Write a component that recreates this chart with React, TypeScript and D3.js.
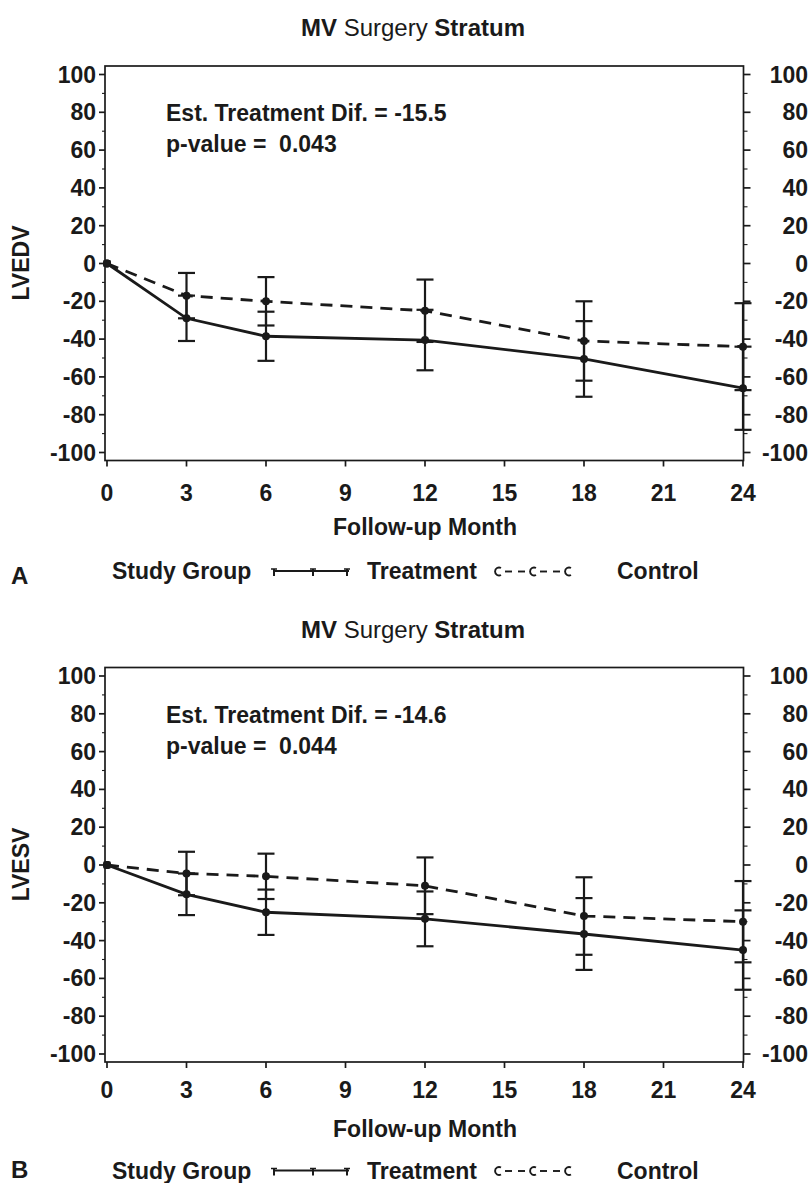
import React from 'react';
import * as d3 from 'd3';

const months = [0, 3, 6, 12, 18, 24];
const xTickValues = [0, 3, 6, 9, 12, 15, 18, 21, 24];
const yTickValues = [100, 80, 60, 40, 20, 0, -20, -40, -60, -80, -100];
const yMinorValues = [90, 70, 50, 30, 10, -10, -30, -50, -70, -90];

const lvedvTreatment = [0, -29, -38.5, -40.5, -50.5, -66];
const lvedvTreatmentErr = [0, 12, 13, 16, 20, 22];
const lvedvControl = [0, -17, -20, -25, -41, -44];
const lvedvControlErr = [0, 12, 12.8, 16.5, 21, 23];

const lvesvTreatment = [0, -15.5, -25, -28.5, -36.5, -45];
const lvesvTreatmentErr = [0, 11, 12, 14.5, 19, 21];
const lvesvControl = [0, -4.5, -6, -11, -27, -30];
const lvesvControlErr = [0, 11.5, 12, 15, 20.5, 21.5];

const panels = [
  { letter: 'A', yLabel: 'LVEDV', dif: '-15.5', pValue: '0.043', treat: lvedvTreatment, treatErr: lvedvTreatmentErr, ctrl: lvedvControl, ctrlErr: lvedvControlErr },
  { letter: 'B', yLabel: 'LVESV', dif: '-14.6', pValue: '0.044', treat: lvesvTreatment, treatErr: lvesvTreatmentErr, ctrl: lvesvControl, ctrlErr: lvesvControlErr },
];

const INK = '#1a1a1a';
const FONT = "'Liberation Sans', Arial, Helvetica, sans-serif";
const FS = 23;

function Panel({ p, off, idx }: { p: any; off: number; idx: number }) {
  const x = d3.scaleLinear().domain([0, 24]).range([107, 743]);
  const y = d3.scaleLinear().domain([-100, 100]).range([452.5 + off, 74.5 + off]);
  const frameL = 105, frameR = 743.5, frameT = 66 + off, frameB = 460.5 + off;
  const line = d3.line<number>().x((_, i) => x(months[i])).y((d) => y(d));
  const cap = 8.5;

  const errBars = (vals: number[], errs: number[], key: string) =>
    vals.map((v, i) => {
      if (errs[i] === 0) return null;
      const xx = x(months[i]);
      const y1 = y(v + errs[i]);
      const y2 = y(v - errs[i]);
      return (
        <g key={key + i} stroke={INK} strokeWidth={2.2}>
          <line x1={xx} x2={xx} y1={y1} y2={y2} />
          <line x1={xx - cap} x2={xx + cap} y1={y1} y2={y1} />
          <line x1={xx - cap} x2={xx + cap} y1={y2} y2={y2} />
        </g>
      );
    });

  const legendY = (idx === 0 ? 579 : 577) + off;
  const letterY = idx === 0 ? legendY + 5 : legendY - 1;
  const tickLabelY = frameB + (idx === 0 ? 40.5 : 36);
  const xTitleY = frameB + (idx === 0 ? 74.5 : 75);
  return (
    <g fontFamily={FONT} fontWeight="bold" fill={INK}>
      <text x={413} y={36 + off} textAnchor="middle" fontSize={24}>
        MV <tspan fontWeight="normal">Surgery</tspan> Stratum
      </text>
      {/* frame */}
      <rect x={frameL} y={frameT} width={frameR - frameL} height={frameB - frameT} fill="none" stroke={INK} strokeWidth={1.7} />
      {/* left & right ticks */}
      {yTickValues.map((t) => (
        <g key={'yt' + t}>
          <line x1={frameL - 6} x2={frameL} y1={y(t)} y2={y(t)} stroke={INK} strokeWidth={1.7} />
          <line x1={frameR} x2={frameR + 7} y1={y(t)} y2={y(t)} stroke={INK} strokeWidth={1.7} />
          <text x={96} y={y(t) + 8} textAnchor="end" fontSize={FS}>{t}</text>
          <text x={808} y={y(t) + 8} textAnchor="end" fontSize={FS}>{t}</text>
        </g>
      ))}
      {yMinorValues.map((t) => (
        <g key={'ym' + t} stroke={INK} strokeWidth={1.1}>
          <line x1={frameL - 3} x2={frameL} y1={y(t)} y2={y(t)} />
          <line x1={frameR} x2={frameR + 4} y1={y(t)} y2={y(t)} />
        </g>
      ))}
      {xTickValues.map((t) => (
        <g key={'xt' + t}>
          <line x1={x(t)} x2={x(t)} y1={frameB} y2={frameB + 6} stroke={INK} strokeWidth={1.7} />
          <text x={x(t)} y={tickLabelY} textAnchor="middle" fontSize={FS}>{t}</text>
        </g>
      ))}
      <text x={425} y={xTitleY} textAnchor="middle" fontSize={FS}>Follow-up Month</text>
      <text transform={`translate(29,${263 + off}) rotate(-90)`} textAnchor="middle" fontSize={FS}>{p.yLabel}</text>
      <text x={166} y={121 + off} fontSize={FS}>Est. Treatment Dif. = {p.dif}</text>
      <text x={166} y={152 + off} fontSize={FS} style={{ whiteSpace: 'pre' }}>{'p-value =  ' + p.pValue}</text>

      {/* series */}
      <path d={line(p.ctrl) || ''} fill="none" stroke={INK} strokeWidth={2.8} strokeDasharray="12 8" />
      <path d={line(p.treat) || ''} fill="none" stroke={INK} strokeWidth={2.8} />
      {errBars(p.ctrl, p.ctrlErr, 'c')}
      {errBars(p.treat, p.treatErr, 't')}
      {p.ctrl.map((v: number, i: number) => (
        <circle key={'cm' + i} cx={x(months[i])} cy={y(v)} r={4} fill={INK} />
      ))}
      {p.treat.map((v: number, i: number) => (
        <circle key={'tm' + i} cx={x(months[i])} cy={y(v)} r={4} fill={INK} />
      ))}
      <rect x={x(0) - 3.5} y={y(0) - 3.5} width={7} height={7} fill={INK} />

      {/* legend */}
      <text x={11} y={letterY} fontSize={24}>{p.letter}</text>
      <text x={112} y={legendY} fontSize={FS}>Study Group</text>
      <g stroke={INK}>
        <line x1={273} x2={349} y1={legendY - 8} y2={legendY - 8} strokeWidth={2.2} />
        {[274, 313, 347].map((lx) => (
          <g key={'lt' + lx}>
            <line x1={lx} x2={lx} y1={legendY - 10} y2={legendY - 3} strokeWidth={2} />
            <line x1={lx - 3} x2={lx + 3} y1={legendY - 10} y2={legendY - 10} strokeWidth={1.5} />
          </g>
        ))}
      </g>
      <text x={367} y={legendY} fontSize={FS}>Treatment</text>
      <g stroke={INK} fill="none" strokeWidth={1.9}>
        {[498, 533, 568].map((cx) => (
          <path key={'lc' + cx} d={`M ${cx + 3} ${legendY - 11} A 4 4 0 1 0 ${cx + 3} ${legendY - 4}`} />
        ))}
        <line x1={505} x2={512} y1={legendY - 7.5} y2={legendY - 7.5} />
        <line x1={518} x2={525} y1={legendY - 7.5} y2={legendY - 7.5} />
        <line x1={540} x2={547} y1={legendY - 7.5} y2={legendY - 7.5} />
        <line x1={553} x2={560} y1={legendY - 7.5} y2={legendY - 7.5} />
      </g>
      <text x={617} y={legendY} fontSize={FS}>Control</text>
    </g>
  );
}

export default function App() {
  return (
    <svg width={811} height={1183} style={{ position: 'absolute', left: 0, top: 0, background: '#fff' }}>
      <rect x={0} y={0} width={811} height={1183} fill="#fff" />
      {panels.map((p, i) => (
        <Panel key={p.letter} p={p} off={i * 601.5} idx={i} />
      ))}
    </svg>
  );
}
